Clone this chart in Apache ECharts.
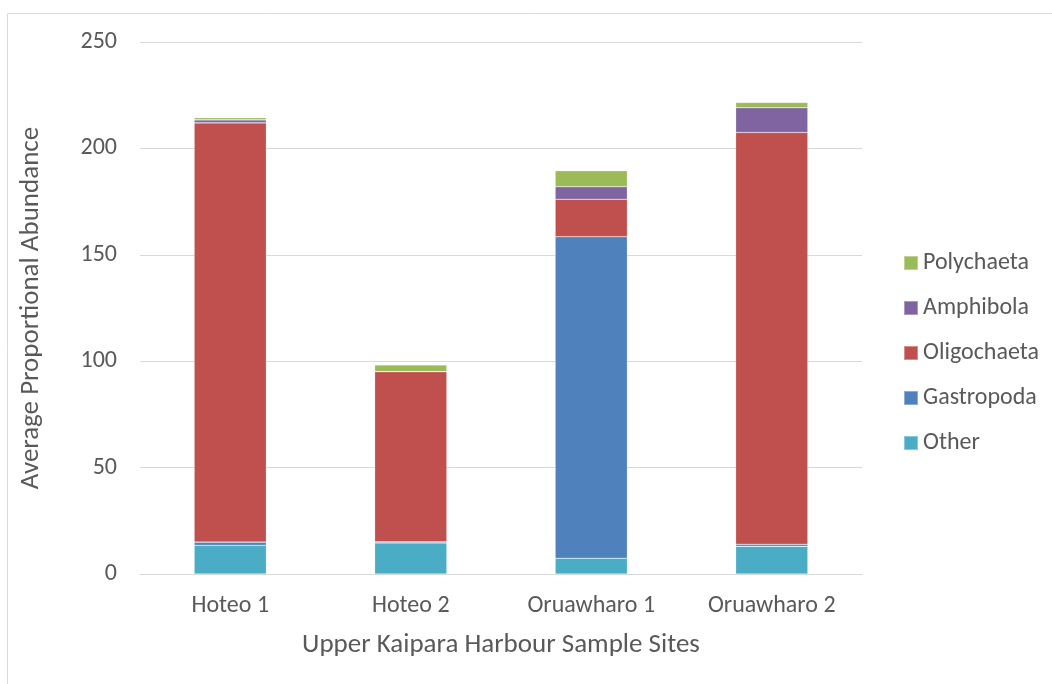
<!DOCTYPE html>
<html><head><meta charset="utf-8">
<script src="https://cdn.jsdelivr.net/npm/echarts@6/dist/echarts.min.js"></script>
<style>html,body{margin:0;padding:0;background:#fff}#c{width:1052px;height:684px}</style>
</head><body><div id="c"></div>
<script>
const categories = ['Hoteo 1', 'Hoteo 2', 'Oruawharo 1', 'Oruawharo 2'];
const other = [13.5, 14.6, 7.4, 13.0];
const gastropoda = [1.5, 0.5, 151.1, 1.0];
const oligochaeta = [197.0, 80.0, 17.6, 193.5];
const amphibola = [1.4, 0.0, 5.9, 11.6];
const polychaeta = [1.0, 3.1, 7.5, 2.5];
const yTicks = [0, 50, 100, 150, 200, 250];

const font = 'Carlito, "Open Sans", "Liberation Sans", sans-serif';
const txt = '#595959';
const chart = echarts.init(document.getElementById('c'));
function s(name, data, color) {
  return { name, type: 'bar', stack: 'a', data, barWidth: '40%',
    itemStyle: { color, borderColor: 'rgba(255,255,255,0.35)', borderWidth: 0.6 } };
}
chart.setOption({
  animation: false,
  textStyle: { fontFamily: font },
  graphic: [
    { type: 'line', shape: { x1: 7.5, y1: 13.5, x2: 1052, y2: 13.5 }, style: { stroke: '#d9d9d9', lineWidth: 1 } },
    { type: 'line', shape: { x1: 7.5, y1: 13.5, x2: 7.5, y2: 684 }, style: { stroke: '#d9d9d9', lineWidth: 1 } }
  ],
  grid: { left: 140, top: 42, width: 722, height: 532 },
  legend: {
    orient: 'vertical', left: 903, top: 251, padding: 0,
    data: ['Polychaeta', 'Amphibola', 'Oligochaeta', 'Gastropoda', 'Other'],
    itemWidth: 14, itemHeight: 14, itemGap: 21,
    icon: 'rect',
    textStyle: { color: txt, fontSize: 24, lineHeight: 24, fontFamily: font }
  },
  xAxis: {
    type: 'category', data: categories,
    axisLine: { lineStyle: { color: '#d9d9d9', width: 1 } },
    axisTick: { show: false },
    axisLabel: { color: txt, fontSize: 24, margin: 20, fontFamily: font },
    name: 'Upper Kaipara Harbour Sample Sites', nameLocation: 'middle', nameGap: 58,
    nameTextStyle: { color: txt, fontSize: 27, fontFamily: font }
  },
  yAxis: {
    type: 'value', min: yTicks[0], max: yTicks[yTicks.length - 1], interval: 50,
    axisLine: { show: false }, axisTick: { show: false },
    splitLine: { lineStyle: { color: '#d9d9d9', width: 1 } },
    axisLabel: { color: txt, fontSize: 24, margin: 23, fontFamily: font },
    name: 'Average Proportional Abundance', nameLocation: 'middle', nameGap: 95,
    nameTextStyle: { color: txt, fontSize: 27, fontFamily: font }
  },
  series: [
    s('Other', other, '#4BACC6'),
    s('Gastropoda', gastropoda, '#4F81BD'),
    s('Oligochaeta', oligochaeta, '#C0504D'),
    s('Amphibola', amphibola, '#8064A2'),
    s('Polychaeta', polychaeta, '#9BBB59')
  ]
});
</script></body></html>
